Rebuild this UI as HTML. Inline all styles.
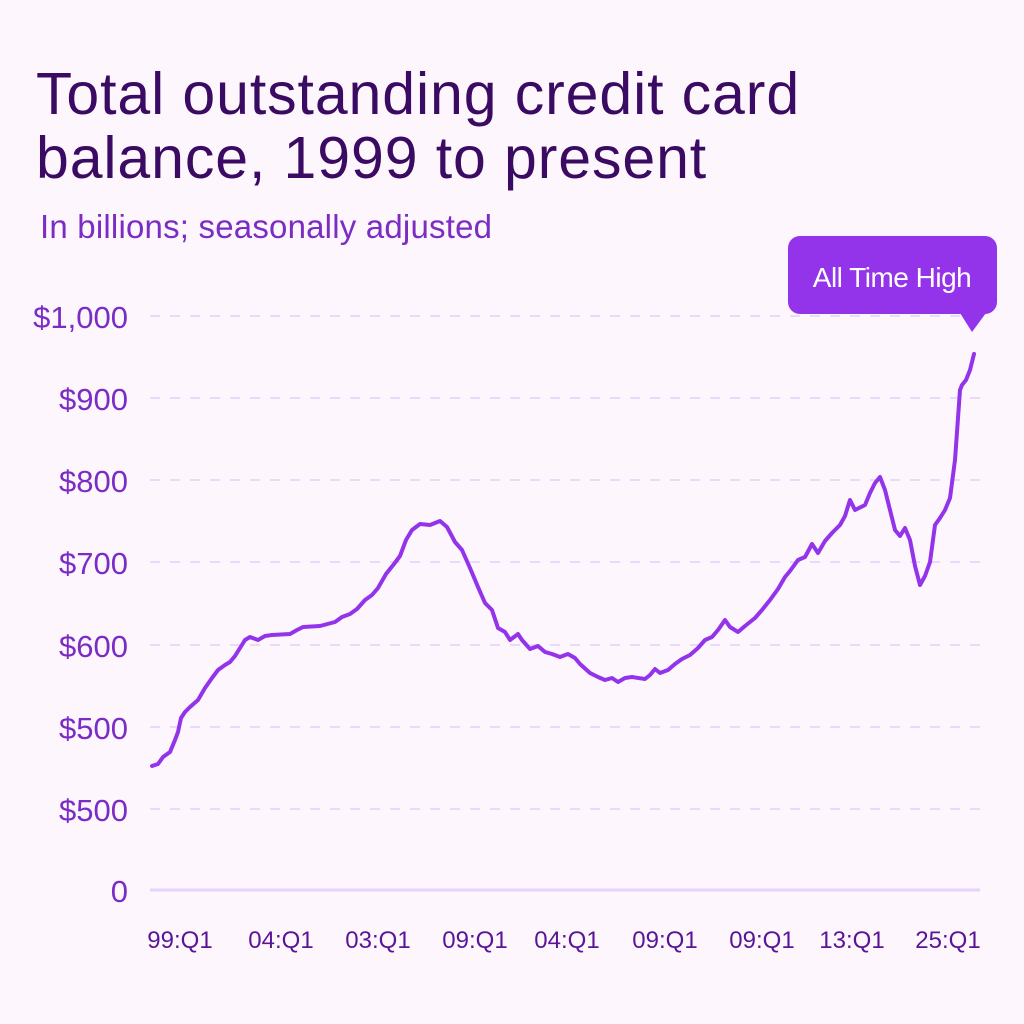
<!DOCTYPE html>
<html><head><meta charset="utf-8"><style>
html,body{margin:0;padding:0;background:#fdf7fd;}
body{width:1024px;height:1024px;position:relative;overflow:hidden;font-family:"Liberation Sans",sans-serif;}
.t{position:absolute;left:36px;top:62px;font-size:59px;line-height:64px;color:#3b0b63;letter-spacing:0.9px;}
.s{position:absolute;left:40px;top:208px;font-size:33px;color:#7a2cc4;letter-spacing:0.2px;}
</style></head><body>
<div class="t">Total outstanding credit card<br>balance, 1999 to present</div>
<div class="s">In billions; seasonally adjusted</div>
<svg width="1024" height="1024" style="position:absolute;left:0;top:0">
<g stroke="#e2d0f7" stroke-width="1.5" stroke-dasharray="10,10">
<line x1="150" y1="316" x2="980" y2="316"/><line x1="150" y1="398" x2="980" y2="398"/>
<line x1="150" y1="480" x2="980" y2="480"/><line x1="150" y1="562" x2="980" y2="562"/>
<line x1="150" y1="645" x2="980" y2="645"/><line x1="150" y1="727" x2="980" y2="727"/>
<line x1="150" y1="809" x2="980" y2="809"/></g>
<line x1="150" y1="890" x2="980" y2="890" stroke="#e6d2fa" stroke-width="3"/>
<g font-size="31" fill="#7a2cc4" text-anchor="end" font-family="Liberation Sans, sans-serif">
<text x="128" y="328">$1,000</text><text x="128" y="410">$900</text><text x="128" y="492">$800</text>
<text x="128" y="574">$700</text><text x="128" y="657">$600</text><text x="128" y="739">$500</text>
<text x="128" y="821">$500</text><text x="128" y="902">0</text></g>
<g font-size="24" fill="#5a1596" text-anchor="middle" font-family="Liberation Sans, sans-serif">
<text x="180" y="948">99:Q1</text><text x="281" y="948">04:Q1</text><text x="378" y="948">03:Q1</text>
<text x="475" y="948">09:Q1</text><text x="567" y="948">04:Q1</text><text x="665" y="948">09:Q1</text>
<text x="762" y="948">09:Q1</text><text x="852" y="948">13:Q1</text><text x="948" y="948">25:Q1</text></g>
<polyline fill="none" stroke="#9333ea" stroke-width="4" stroke-linejoin="round" stroke-linecap="round" points="152,766 158,764 163,757 170,752 175,740 178,732 181,718 185,712 190,707 198,700 205,688 212,678 218,670 225,665 230,662 235,656 240,648 245,640 250,637 258,640 265,636 272,635 290,634 297,630 303,627 320,626 335,622 342,617 350,614 357,609 365,600 372,595 378,588 386,574 394,564 400,556 406,540 412,530 420,524 430,525 440,521 447,527 455,542 462,550 470,568 478,587 485,603 492,610 498,628 505,632 510,640 518,634 522,640 530,649 538,646 545,652 552,654 560,657 568,654 575,658 580,664 590,673 598,677 605,680 612,678 618,682 625,678 632,677 645,679 650,675 655,669 660,673 668,670 675,664 682,659 690,655 698,648 705,640 712,637 718,630 725,620 730,627 738,632 745,626 755,618 762,610 770,600 778,589 785,577 790,571 798,560 805,557 812,544 818,553 825,541 832,533 840,525 845,516 850,500 855,510 865,505 870,493 875,483 880,477 885,490 890,510 895,530 900,536 905,528 910,540 915,566 920,585 925,576 930,562 935,525 940,518 945,510 950,498 955,460 960,390 962,385 966,380 970,370 974,354"/>
<rect x="788" y="236" width="209" height="78" rx="12" fill="#9333ea"/>
<polygon points="960,313 986,313 972,332" fill="#9333ea"/>
<text x="892" y="287" font-size="28" fill="#fff" text-anchor="middle" font-family="Liberation Sans, sans-serif" letter-spacing="-0.5">All Time High</text>
</svg>
</body></html>
